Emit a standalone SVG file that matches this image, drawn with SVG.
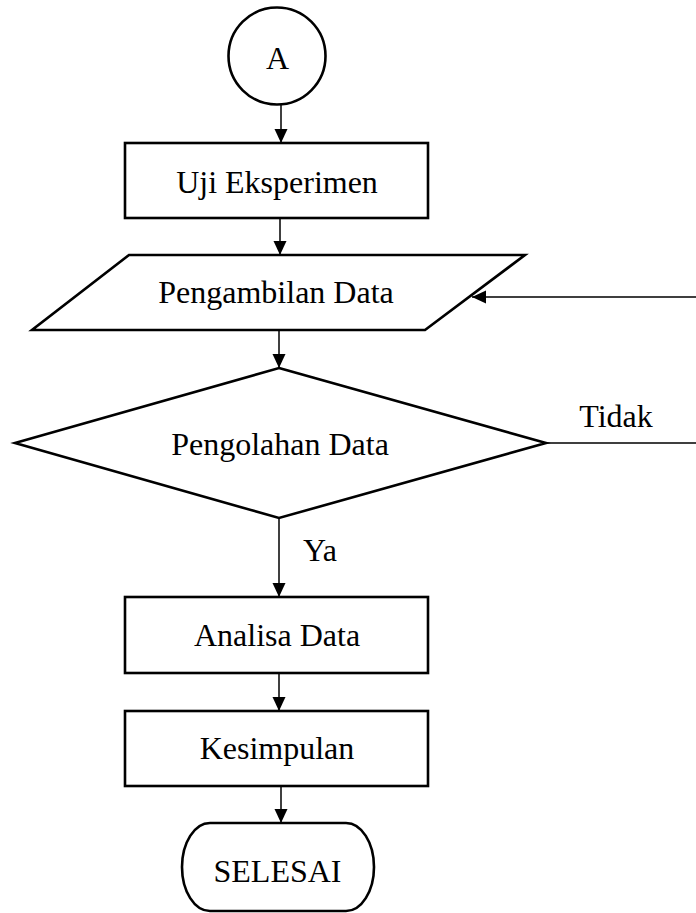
<svg xmlns="http://www.w3.org/2000/svg" width="696" height="913" viewBox="0 0 696 913">
<style>
.shape{fill:#fff;stroke:#000;stroke-width:2.6}
.conn{fill:none;stroke:#000;stroke-width:1.5}
text{font-family:"Liberation Serif","Times New Roman",serif;font-size:32px;fill:#000;text-anchor:middle}
</style>
<defs>
<marker id="arr" markerUnits="userSpaceOnUse" markerWidth="15" markerHeight="14" refX="14" refY="6.5" orient="auto">
<path d="M0,0 L14,6.5 L0,13 z" fill="#000"/>
</marker>
</defs>
<rect width="696" height="913" fill="#fff"/>
<g id="connectors">
<line class="conn" x1="281" y1="105" x2="281" y2="143" marker-end="url(#arr)"/>
<line class="conn" x1="280" y1="218" x2="280" y2="255" marker-end="url(#arr)"/>
<line class="conn" x1="279" y1="330" x2="279" y2="368" marker-end="url(#arr)"/>
<line class="conn" x1="279" y1="518" x2="279" y2="597" marker-end="url(#arr)"/>
<line class="conn" x1="279" y1="673" x2="279" y2="711" marker-end="url(#arr)"/>
<line class="conn" x1="281" y1="786" x2="281" y2="823" marker-end="url(#arr)"/>
<path class="conn" d="M546,443 H702 V297 H472" marker-end="url(#arr)"/>
<text x="616" y="427">Tidak</text>
<text x="320" y="561">Ya</text>
</g>
<g id="nodeA">
<circle class="shape" cx="277" cy="56" r="48.5"/>
<text x="277.5" y="69">A</text>
</g>
<g id="uji">
<rect class="shape" x="125" y="143" width="303" height="75"/>
<text x="277" y="193">Uji Eksperimen</text>
</g>
<g id="pengambilan">
<polygon class="shape" points="129,255 525,255 425,330 32,330"/>
<text x="276" y="303">Pengambilan Data</text>
</g>
<g id="pengolahan">
<polygon class="shape" points="279,368 546,443 279,518 15,443"/>
<text x="280" y="455">Pengolahan Data</text>
</g>
<g id="analisa">
<rect class="shape" x="125" y="597" width="303" height="76"/>
<text x="277" y="646">Analisa Data</text>
</g>
<g id="kesimpulan">
<rect class="shape" x="125" y="711" width="303" height="75"/>
<text x="277" y="759">Kesimpulan</text>
</g>
<g id="selesai">
<rect class="shape" x="182" y="823" width="192" height="88" rx="28" ry="44"/>
<text x="277.5" y="882">SELESAI</text>
</g>
</svg>
